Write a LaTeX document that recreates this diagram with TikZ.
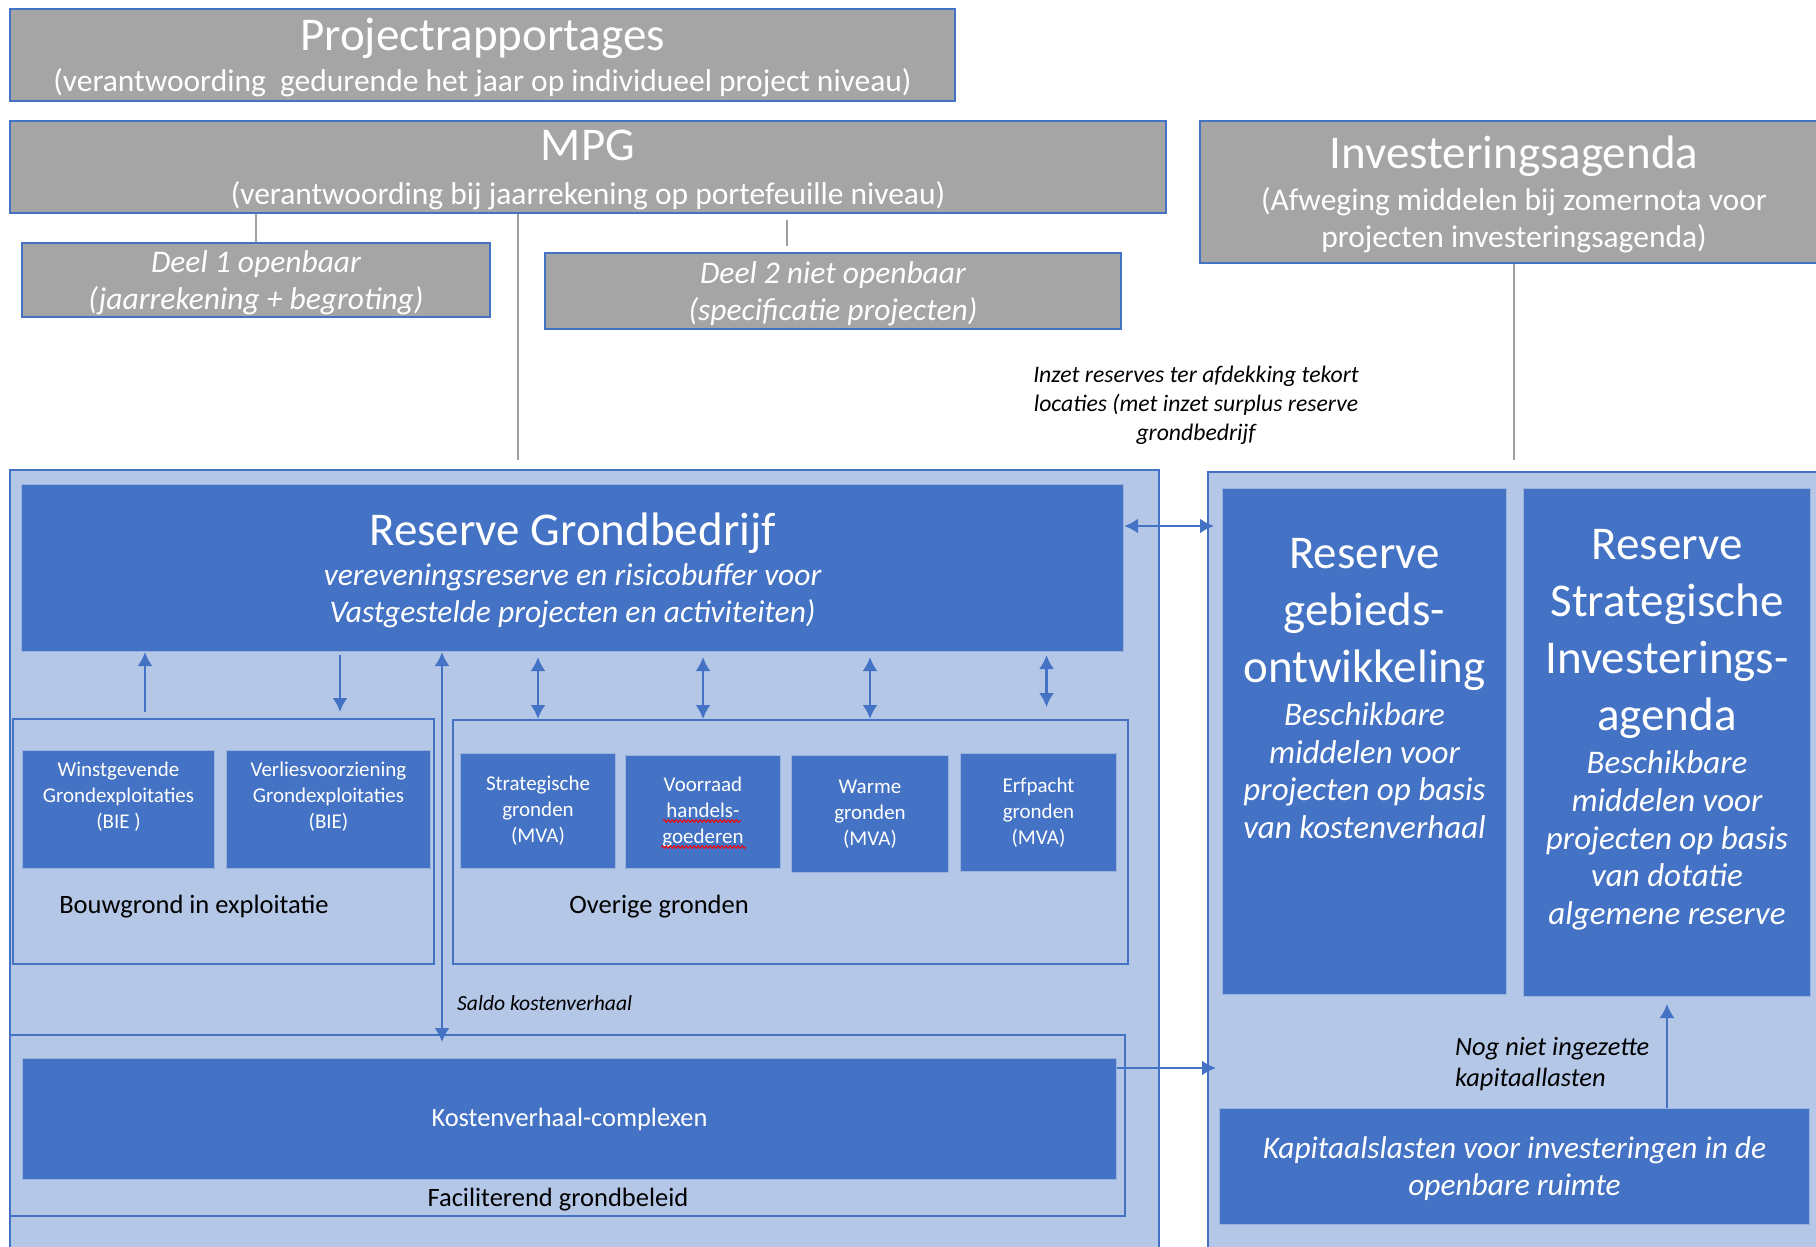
\documentclass[tikz,border=0pt]{standalone}
\usepackage{fontspec}
\setmainfont{Carlito}
\usetikzlibrary{arrows.meta,decorations.pathmorphing}
\definecolor{boxgrey}{HTML}{A5A5A5}
\definecolor{darkblue}{HTML}{4472C4}
\definecolor{lightblue}{HTML}{B4C7E7}
\definecolor{linegrey}{HTML}{A0A0A0}
\newcommand{\fs}[2]{\fontsize{#1}{#2}\selectfont\lineskiplimit=-1000pt}

\begin{document}
\begin{tikzpicture}[x=1pt, y=-1pt,
	greybox/.style={draw=darkblue, line width=2pt, fill=boxgrey, text=white, inner sep=0pt, align=center, anchor=north west, text depth=0pt},
	panel/.style={draw=darkblue, line width=1.5pt, fill=lightblue, inner sep=0pt, anchor=north west},
	bluebox/.style={fill=darkblue, draw=darkblue!55!white, line width=1pt, text=white, inner sep=0pt, align=center, anchor=north west},
	frame/.style={draw=darkblue, line width=2pt, inner sep=0pt, anchor=north west},
	label/.style={inner sep=0pt, font=\fs{26.5}{32}},
	arr/.style={draw=darkblue, line width=2.5pt, -{Latex[length=14pt,width=15pt]}},
	darr/.style={draw=darkblue, line width=2.5pt, {Latex[length=14pt,width=15pt]}-{Latex[length=14pt,width=15pt]}},
	link/.style={draw=linegrey, line width=2.5pt},
	squiggle/.style={draw=red, line width=1pt, decorate, decoration={snake, amplitude=1.3pt, segment length=4pt}}]
				\useasboundingbox (0,0) rectangle (1816,1247);
				\path
				coordinate (winup) at (145,0)
				coordinate (verdown) at (340,0)
				coordinate (saldox) at (442,0)
				coordinate (mpgx) at (518,0)
				coordinate (deeltwox) at (787,0)
				coordinate (linky) at (0,526)
				coordinate (kvcy) at (0,1068)
				;
				% verantwoording
				\node[greybox, minimum width=945pt, minimum height=92pt, font=\fs{31.5}{41}] (proj) at (9,8)
					{\fs{47}{57}Projectrapportages\\(verantwoording~ gedurende het jaar op individueel project niveau)};
				\node[greybox, minimum width=1156pt, minimum height=92pt, font=\fs{31.5}{44}] (mpg) at (9,120)
					{\fs{47}{57}MPG\\(verantwoording bij jaarrekening op portefeuille niveau)};
				\node[greybox, minimum width=628pt, minimum height=142pt, font=\fs{31.5}{37}] (inv) at (1199,120)
					{\fs{47}{57}Investeringsagenda\\[5pt](Afweging middelen bij zomernota voor\\projecten investeringsagenda)};
				\node[greybox, minimum width=468pt, minimum height=74pt, font=\itshape\fs{31.5}{37}] (deel1) at (21,242)
					{Deel 1 openbaar\\(jaarrekening + begroting)};
				\node[greybox, minimum width=576pt, minimum height=76pt, font=\itshape\fs{31.5}{37}] (deel2) at (544,252)
					{Deel 2 niet openbaar\\(specificatie projecten)};
				% panelen
				\node[panel, minimum width=1149pt, minimum height=800pt] (leftpanel) at (9,469) {};
				\node[panel, minimum width=623pt, minimum height=800pt] (rightpanel) at (1207,471) {};
				\node[bluebox, minimum width=1102pt, minimum height=167pt, font=\itshape\fs{31.5}{37}, text depth=0pt] (rgb) at (21,484)
					{\upshape\fs{47}{57}Reserve Grondbedrijf\\[3pt]vereveningsreserve en risicobuffer voor\\Vastgestelde projecten en activiteiten)};
				\node[frame, minimum width=421pt, minimum height=245pt] (bouwbox) at (12,718) {};
				\node[frame, minimum width=675pt, minimum height=244pt] (overbox) at (452,719) {};
				\node[frame, minimum width=1115pt, minimum height=181pt] (facbox) at (9,1034) {};
				\node[bluebox, minimum width=192pt, minimum height=118pt, font=\fs{21}{26}, text depth=28pt] (winst) at (22,750)
					{Winstgevende\\Grondexploitaties\\(BIE )};
				\node[bluebox, minimum width=204pt, minimum height=118pt, font=\fs{21}{26}, text depth=28pt] (verlies) at (226,750)
					{Verliesvoorziening\\Grondexploitaties\\(BIE)};
				\node[bluebox, minimum width=155pt, minimum height=115pt, font=\fs{21}{26}] (strat) at (460,753)
					{Strategische\\gronden\\(MVA)};
				\node[bluebox, minimum width=155pt, minimum height=113pt, font=\fs{21}{26}] (voorraad) at (625,755)
					{Voorraad\\handels-\\goederen};
				\node[bluebox, minimum width=157pt, minimum height=117pt, font=\fs{21}{26}] (warme) at (791,755)
					{Warme\\gronden\\(MVA)};
				\node[bluebox, minimum width=156pt, minimum height=118pt, font=\fs{21}{26}] (erfpacht) at (960,753)
					{Erfpacht\\gronden\\(MVA)};
				\node[bluebox, minimum width=1094pt, minimum height=121pt, font=\fs{26.4}{32}] (kvc) at (22,1058)
					{Kostenverhaal-complexen};
				\node[bluebox, minimum width=284pt, minimum height=506pt] (rgo) at (1222,488) {};
				\node[bluebox, minimum width=287pt, minimum height=508pt] (rsi) at (1523,488) {};
				\node[bluebox, minimum width=590pt, minimum height=116pt, font=\itshape\fs{31.4}{37}, text depth=0pt] (kap) at (1219,1108)
					{Kapitaalslasten voor investeringen in de\\openbare ruimte};
				% teksten
				\node[text=white, align=center, anchor=north, inner sep=0pt, font=\itshape\fs{33}{37.5}] (rgotext) at ([yshift=-50.5pt]rgo.north)
					{\upshape\fs{47}{57}Reserve\\[19.5pt]\upshape\fs{47}{57}gebieds-\\[19.5pt]\upshape\fs{47}{57}ontwikkeling\\[5.5pt]Beschikbare\\middelen voor\\projecten op basis\\van kostenverhaal};
				\node[text=white, align=center, anchor=north, inner sep=0pt, font=\itshape\fs{33}{37.7}] (rsitext) at ([yshift=-41.5pt]rsi.north)
					{\upshape\fs{47}{57}Reserve\\[19.3pt]\upshape\fs{47}{57}Strategische\\[19.3pt]\upshape\fs{47}{57}Investerings-\\[19.3pt]\upshape\fs{47}{57}agenda\\[5.3pt]Beschikbare\\middelen voor\\projecten op basis\\van dotatie\\algemene reserve};
				\node[label] (bouwtext) at (194,907) {Bouwgrond in exploitatie};
				\node[label] (overtext) at (659,907) {Overige gronden};
				\node[label] (factext) at (558,1200) {Faciliterend grondbeleid};
				\node[inner sep=0pt, anchor=west, font=\itshape\fs{21.6}{26}] (saldo) at (457,1003) {Saldo kostenverhaal};
				\node[inner sep=0pt, align=center, font=\itshape\fs{23.7}{29}] (inzet) at (1196,405)
					{Inzet reserves ter afdekking tekort\\locaties (met inzet surplus reserve\\grondbedrijf};
				\node[inner sep=0pt, align=left, anchor=west, font=\itshape\fs{26.4}{31}] (nog) at (1455,1064)
					{Nog niet ingezette\\kapitaallasten};
				% lijnen
				\draw[link] (deel1.north) -- (deel1.north |- mpg.south);
				\draw[link, shorten <=6pt, shorten >=6pt] (deeltwox |- mpg.south) -- (deeltwox |- deel2.north);
				\draw[link, shorten >=9pt] (mpgx |- mpg.south) -- (mpgx |- leftpanel.north);
				\draw[link, shorten >=11pt] (inv.south) -- (inv.south |- rightpanel.north);
				% pijlen
				\draw[arr, shorten <=6pt] (winup |- bouwbox.north) -- (winup |- rgb.south);
				\draw[arr, shorten <=3pt, shorten >=6pt] (verdown |- rgb.south) -- (verdown |- bouwbox.north);
				\draw[darr, shorten <=5pt] (strat.north |- rgb.south) -- (strat.north |- overbox.north);
				\draw[darr, shorten <=5pt] (voorraad.north |- rgb.south) -- (voorraad.north |- overbox.north);
				\draw[darr, shorten <=5pt] (warme.north |- rgb.south) -- (warme.north |- overbox.north);
				\draw[darr, shorten <=3pt, shorten >=12pt] ([xshift=8pt]erfpacht.north |- rgb.south) -- ([xshift=8pt]erfpacht.north |- overbox.north);
				\draw[darr, shorten >=-8pt] (saldox |- rgb.south) -- (saldox |- facbox.north);
				\draw[darr, shorten >=-7pt] (linky -| rgb.east) -- (linky -| rightpanel.west);
				\draw[arr, shorten >=-9pt] (kvcy -| kvc.east) -- (kvcy -| rightpanel.west);
				\draw[arr, line width=2pt, shorten >=7pt] (rsi.south |- kap.north) -- (rsi.south);
				% spelling
				\draw[squiggle] (663,821) -- (741,821);
				\draw[squiggle] (661,847) -- (746,847);
		\end{tikzpicture}
\end{document}
